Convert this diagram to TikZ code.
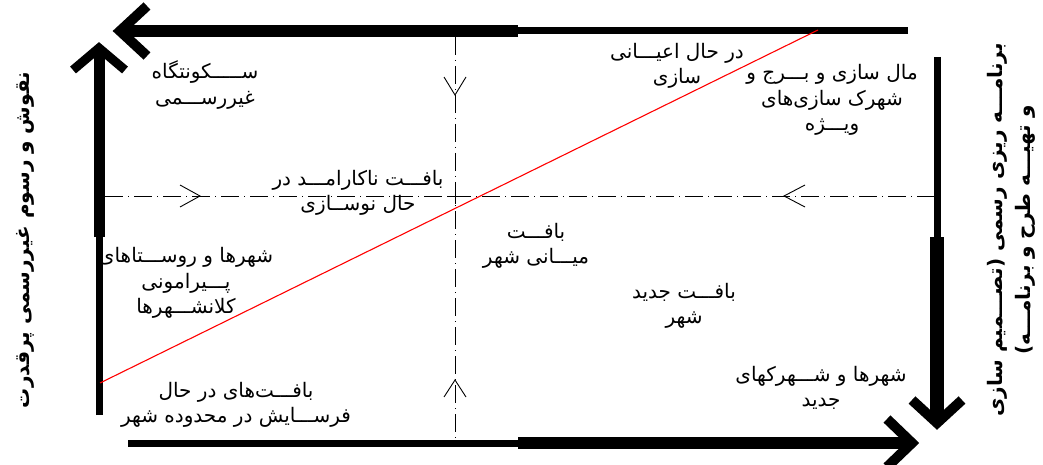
\documentclass[tikz,border=0pt]{standalone}
\usepackage{fontspec}
\newfontfamily\arabicfont[Script=Arabic]{DejaVu Sans}
\TeXXeTstate=1
\newcommand\rl[1]{\beginR #1\endR}
\begin{document}
\begin{tikzpicture}[x=1pt,y=-1pt,
  lbl/.style={align=center,inner sep=0pt,font=\arabicfont\fontsize{20}{25.5}\selectfont},
  side/.style={align=center,inner sep=0pt,rotate=90,font=\arabicfont\bfseries\fontsize{20}{28}\selectfont},
  thickbar/.style={line width=12pt},
  thinbar/.style={line width=7pt},
  head/.style={line width=10pt,line join=miter,line cap=butt},
  axis/.style={line width=0.9pt,dash pattern=on 18pt off 5pt on 1pt off 5pt},
  chev/.style={line width=0.9pt},
  diag/.style={red,line width=1.1pt}]
\useasboundingbox (0,0) rectangle (1043,465);
% frame coordinates
\coordinate (tTip) at (120,31); \coordinate (tMid) at (518,31); \coordinate (tEnd) at (908,31);
\coordinate (lTip) at (99,48); \coordinate (lMid) at (99,237); \coordinate (lEnd) at (99,415);
\coordinate (rStart) at (937,57); \coordinate (rMid) at (937,237); \coordinate (rTip) at (937,423);
\coordinate (bStart) at (128,443); \coordinate (bMid) at (518,443); \coordinate (bTip) at (912,443);
% top arrow (right to left)
\draw[thinbar] (tEnd) -- (tMid);
\draw[thickbar] (tMid) -- (tTip);
\draw[head] (147,6) -- (tTip) -- (147,56);
% left arrow (upwards)
\draw[thinbar] (lEnd) -- (lMid);
\draw[line width=11pt] (lMid) -- (lTip);
\draw[head,line width=9pt] (73,70) -- (lTip) -- (125,70);
% right arrow (downwards)
\draw[thinbar] (rStart) -- (rMid);
\draw[line width=14pt] (rMid) -- (rTip);
\draw[head] (912,400) -- (rTip) -- (962,400);
% bottom arrow (left to right)
\draw[thinbar] (bStart) -- (bMid);
\draw[thickbar] (bMid) -- (bTip);
\draw[head] (887,419) -- (bTip) -- (887,467);
% dash-dot axes
\coordinate (hL) at (105,196); \coordinate (hR) at (935,196);
\coordinate (vT) at (455,37); \coordinate (vB) at (455,440);
\draw[axis] (hL) -- (hR);
\draw[axis] (vT) -- (vB);
\draw[chev] (447,196) -- (463,196);
\draw[chev] (455,188) -- (455,204);
% open chevrons pointing to centre
\draw[chev] (180,185) -- (200,196) -- (180,207);
\draw[chev] (805,185) -- (784,196) -- (805,207);
\draw[chev] (444,77) -- (455,95) -- (466,77);
\draw[chev] (444,397) -- (455,380) -- (466,397);
% red diagonal
\coordinate (dA) at (100,383); \coordinate (dB) at (818,30);
\draw[diag] (dA) -- (dB);
% labels
\node[lbl] (t1) at (205,85) {\rl{ســـــکونتگاه}\\\rl{غیررســـمی}};
\node[lbl] (t2) at (358,193) {\rl{بافـــت ناکارامـــد در}\\\rl{حال نوســازی}};
\node[lbl] (t3) at (677,66) {\rl{در حال اعیـــانی}\\\rl{سازی}};
\node[lbl] (t4) at (832,100) {\rl{مال سازی و بـــرج و}\\\rl{شهرک سازی‌های}\\\rl{ویـــژه}};
\node[lbl] (t5) at (536,246) {\rl{بافـــت}\\\rl{میـــانی شهر}};
\node[lbl] (t6) at (684,306) {\rl{بافـــت جدید}\\\rl{شهر}};
\node[lbl] (t7) at (821,388) {\rl{شهرها و شـــهرکهای}\\\rl{جدید}};
\node[lbl] (t8) at (186,283) {\rl{شهرها و روســـتاهای}\\\rl{پـــیرامونی}\\\rl{کلانشـــهرها}};
\node[lbl] (t9) at (236,405) {\rl{بافـــت‌های در حال}\\\rl{فرســـایش در محدوده شهر}};
\node[side] (sl) at (25,240) {\rl{نقوش و رسوم غیررسمی پرقدرت}};
\node[side] (sr) at (1011,230) {\rl{برنامـــه ریزی رسمی (تصـــمیم سازی}\\\rl{و تهیـــه طرح و برنامـــه)}};
\end{tikzpicture}
\end{document}
